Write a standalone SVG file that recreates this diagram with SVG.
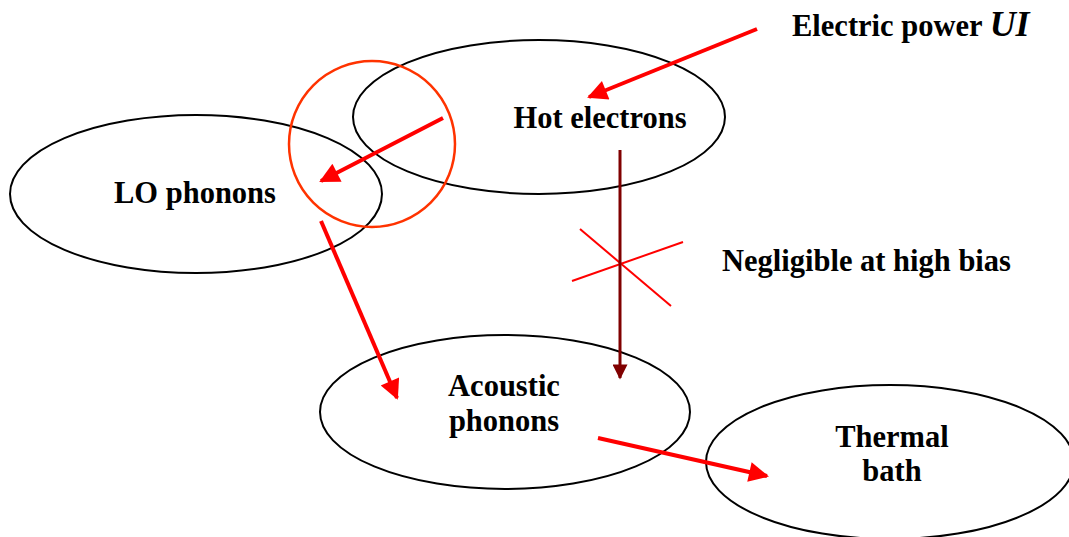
<svg xmlns="http://www.w3.org/2000/svg" width="1069" height="537" viewBox="0 0 1069 537">
<style>
.node{fill:none;stroke:#000;stroke-width:2}
.lbl{font-family:"Liberation Serif","Times New Roman",serif;font-weight:bold;font-size:30.5px;fill:#000}
.red{stroke:#ff0000;stroke-width:4;fill:none}
.dark{stroke:#800000;stroke-width:3;fill:none}
.cross{stroke:#ff0000;stroke-width:2}
</style>
<defs>
<marker id="ar" viewBox="0 0 10 10" refX="9" refY="5" markerWidth="6" markerHeight="5" markerUnits="strokeWidth" orient="auto">
<path d="M0,0 L10,5 L0,10 z" fill="#ff0000"/>
</marker>
<marker id="ad" viewBox="0 0 10 10" refX="9" refY="5" markerWidth="6" markerHeight="5" markerUnits="strokeWidth" orient="auto">
<path d="M0,0 L10,5 L0,10 z" fill="#800000"/>
</marker>
</defs>
<rect width="1069" height="537" fill="#fff"/>
<g id="hot-electrons">
<ellipse class="node" cx="539" cy="117" rx="186" ry="77"/>
<text class="lbl" x="600" y="128" text-anchor="middle">Hot electrons</text>
</g>
<g id="lo-phonons">
<ellipse class="node" cx="196" cy="194" rx="186" ry="79"/>
<text class="lbl" x="195" y="203" text-anchor="middle">LO phonons</text>
</g>
<g id="acoustic-phonons">
<ellipse class="node" cx="505" cy="412" rx="185" ry="77"/>
<text class="lbl" x="504" y="396" text-anchor="middle">Acoustic</text>
<text class="lbl" x="504" y="431" text-anchor="middle">phonons</text>
</g>
<g id="thermal-bath">
<ellipse class="node" cx="890" cy="462" rx="184" ry="77"/>
<text class="lbl" x="892" y="447" text-anchor="middle">Thermal</text>
<text class="lbl" x="892" y="481" text-anchor="middle">bath</text>
</g>
<g id="orange-circle">
<circle cx="372" cy="144" r="83" fill="none" stroke="#ff3300" stroke-width="2.5"/>
</g>
<g id="electric-power">
<text class="lbl" x="792" y="36">Electric power <tspan font-style="italic" font-size="36">UI</tspan></text>
</g>
<g id="negligible">
<text class="lbl" x="722" y="271">Negligible at high bias</text>
<line class="cross" x1="580" y1="229" x2="671" y2="306"/>
<line class="cross" x1="572" y1="281" x2="683" y2="242"/>
</g>
<g id="connectors">
<line class="red" x1="757" y1="29" x2="589" y2="97" marker-end="url(#ar)"/>
<line class="red" x1="443" y1="118" x2="321" y2="181" marker-end="url(#ar)"/>
<line class="red" x1="321" y1="221" x2="397" y2="398" marker-end="url(#ar)"/>
<line class="dark" x1="620" y1="150" x2="620" y2="378" marker-end="url(#ad)"/>
<line class="red" x1="598" y1="438" x2="767" y2="476" marker-end="url(#ar)"/>
</g>
</svg>
